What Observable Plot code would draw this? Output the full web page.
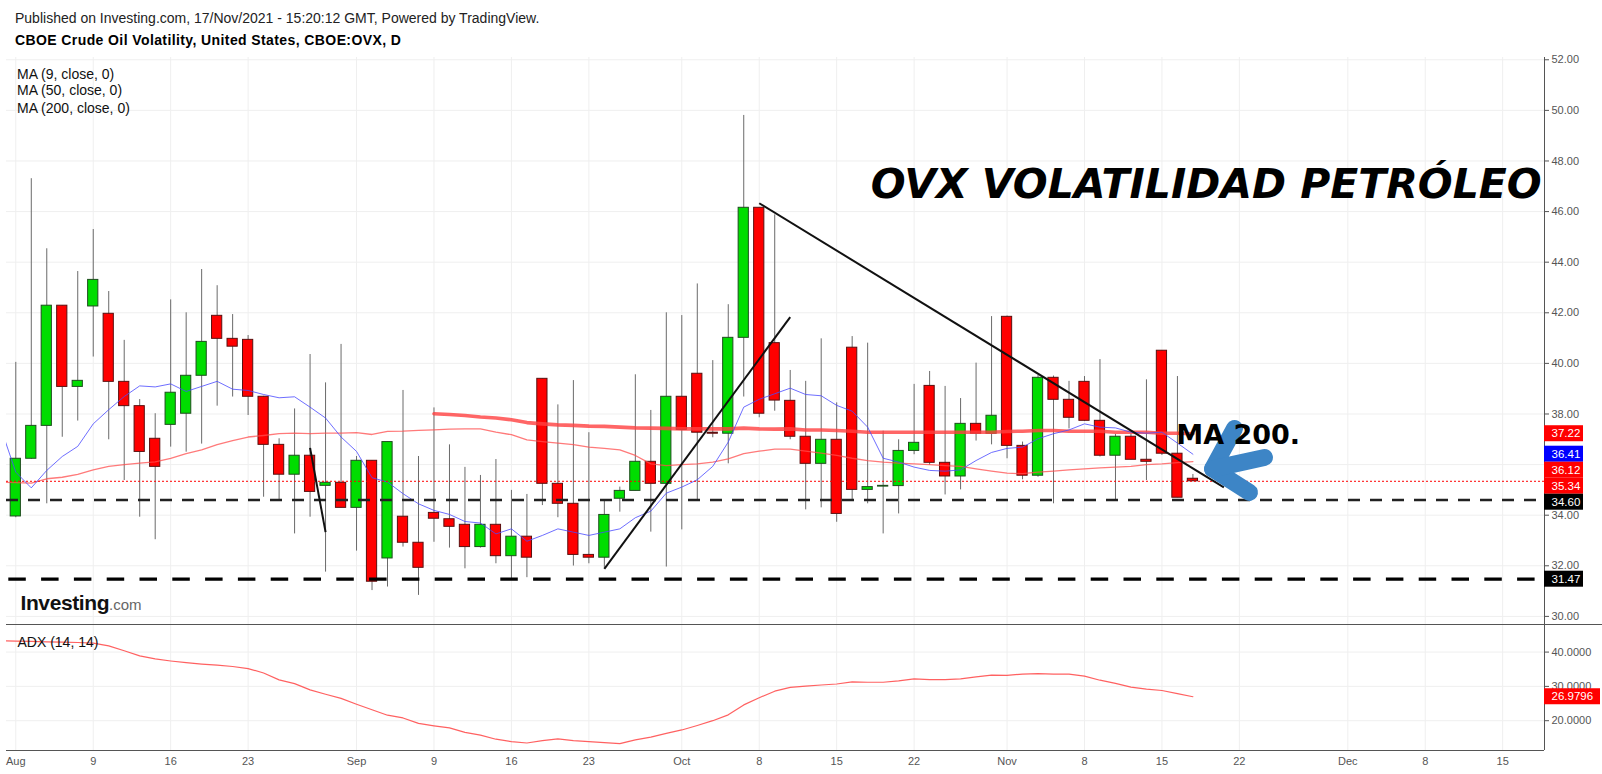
<!DOCTYPE html>
<html><head><meta charset="utf-8">
<script src="https://cdn.jsdelivr.net/npm/d3@7"></script>
<script src="https://cdn.jsdelivr.net/npm/@observablehq/plot@0.6"></script>
<style>
html,body{margin:0;padding:0;background:#fff;}
#wrap{position:relative;width:1602px;height:774px;overflow:hidden;background:#fff;font-family:"Liberation Sans",Arial,sans-serif;}
.t{position:absolute;white-space:nowrap;line-height:1;}
#main,#adx{position:absolute;left:0;}
#main{top:50px;} #adx{top:625px;}
#sep{position:absolute;left:6px;top:624px;width:1596px;height:1px;background:#555;}
svg{overflow:visible;}
</style></head><body>
<div id="wrap">
  <div id="main"></div>
  <div id="adx"></div>
  <div id="sep"></div>
  <div class="t" style="left:15px;top:10.6px;font-size:14px;color:#222">Published on Investing.com, 17/Nov/2021 - 15:20:12 GMT, Powered by TradingView.</div>
  <div class="t" style="left:15px;top:33px;font-size:14px;font-weight:bold;color:#000;letter-spacing:0.4px">CBOE Crude Oil Volatility, United States, CBOE:OVX, D</div>
  <div class="t" id="leg0" style="left:17px;top:66.8px;font-size:14px;color:#111"></div>
  <div class="t" id="leg1" style="left:17px;top:83.1px;font-size:14px;color:#111"></div>
  <div class="t" id="leg2" style="left:17px;top:100.5px;font-size:14px;color:#111"></div>
  <div class="t" style="left:20.5px;top:591.5px;font-size:21px;font-weight:bold;color:#111;letter-spacing:-0.4px">Investing<span style="font-size:15px;font-weight:normal;color:#666;letter-spacing:0">.com</span></div>
  <div class="t" id="adxlab" style="left:17.5px;top:634.7px;font-size:14px;color:#111"></div>
</div>
<script>
// ---------- data ----------
const tickIdx    = [0,5,10,15,22,27,32,37,43,48,53,58,64,69,74,79,86,91,96];
const tickLabels = ["Aug","9","16","23","Sep","9","16","23","Oct","8","15","22","Nov","8","15","22","Dec","8","15"];

const opens = [33.95,36.23,37.53,42.28,39.07,42.25,41.96,39.27,38.31,37.02,
  37.57,38.01,39.51,41.88,40.97,40.93,38.68,36.78,35.60,36.35,
  35.16,35.28,34.29,36.15,32.29,33.94,32.91,34.09,33.84,33.62,
  32.74,33.62,32.38,33.15,39.39,35.24,34.45,32.43,32.32,34.65,
  34.96,36.11,35.24,38.68,39.59,37.26,37.22,41.01,46.15,40.80,
  38.52,37.10,36.03,36.98,40.62,35.00,35.13,35.15,36.54,39.11,
  36.07,35.53,37.61,37.22,41.84,36.74,35.56,39.43,38.56,39.27,
  37.73,36.35,37.10,36.19,40.50,36.43,35.44];
const closes = [36.23,37.53,42.28,39.07,39.31,43.30,39.27,38.31,36.50,35.91,
  38.84,39.51,40.85,40.97,40.66,38.68,36.78,35.60,36.35,34.92,
  35.28,34.29,36.15,31.37,36.89,32.91,31.92,33.86,33.54,32.74,
  33.62,32.38,33.15,32.32,35.24,34.45,32.43,32.32,34.01,34.96,
  36.11,35.24,38.68,37.37,37.26,37.22,41.01,46.15,38.01,38.53,
  37.10,36.03,36.98,34.05,35.00,35.11,35.16,36.54,36.86,36.07,
  35.53,37.61,37.22,37.93,36.74,35.56,39.43,38.56,37.85,37.73,
  36.35,37.10,36.19,36.11,36.43,34.69,35.34];
const highs = [40.04,47.30,44.53,42.28,43.63,45.29,42.84,40.91,38.57,38.01,
  42.51,42.00,43.71,43.07,41.93,41.10,38.70,37.02,38.20,40.35,
  39.23,40.75,36.32,36.15,36.90,38.93,36.32,38.24,36.78,35.89,
  35.57,36.20,34.98,34.82,39.39,38.36,39.32,37.26,34.58,35.11,
  39.55,38.14,42.00,41.89,43.14,40.11,42.32,49.80,46.15,45.87,
  39.72,39.29,40.97,38.44,41.06,40.80,37.32,36.98,39.17,39.68,
  39.09,38.61,40.01,41.85,41.87,36.89,39.52,39.50,39.29,39.48,
  40.15,37.19,37.20,39.35,40.50,39.48,35.61];
const lows = [33.90,36.20,34.45,37.08,37.72,40.25,36.98,35.37,33.92,33.03,
  36.69,36.49,36.81,38.31,38.67,37.94,34.71,34.61,33.26,33.92,
  31.75,34.29,32.58,31.02,31.16,32.74,30.83,32.93,32.70,31.88,
  32.70,32.08,31.49,31.53,34.38,33.90,31.99,32.08,31.88,34.12,
  34.96,33.33,31.95,33.42,34.62,37.06,36.03,38.67,37.85,38.11,
  36.98,34.21,34.29,33.72,34.61,34.45,33.26,34.05,36.39,35.97,
  34.80,35.00,36.93,36.78,36.23,35.40,35.50,34.45,37.41,37.70,
  36.30,34.61,36.19,35.37,36.36,34.69,35.34];

// moving averages (index -1 = value just before Aug 2)
const ma9 = [37.50,
  35.70,35.08,35.77,36.32,36.72,37.61,38.17,38.69,39.11,39.07,
  39.19,38.89,39.09,39.29,38.98,38.93,38.77,38.64,38.68,38.27,
  37.84,37.09,36.52,35.48,35.31,34.85,34.45,34.19,34.03,33.75,
  33.69,33.26,33.46,32.97,33.20,33.46,33.33,33.20,33.33,33.46,
  33.90,34.16,34.87,35.11,35.40,35.93,36.89,38.27,38.58,38.80,
  39.02,38.77,38.72,38.34,38.11,37.48,36.25,36.10,35.90,35.77,
  35.74,35.79,36.16,36.48,36.64,36.69,37.02,37.22,37.37,37.61,
  37.48,37.45,37.28,37.24,37.28,36.85,36.41];
const ma50 = [35.30,
  35.29,35.27,35.44,35.50,35.61,35.79,35.93,36.00,36.06,36.11,
  36.25,36.43,36.58,36.79,36.95,37.09,37.15,37.22,37.24,37.22,
  37.24,37.24,37.26,37.19,37.31,37.32,37.35,37.37,37.40,37.41,
  37.41,37.28,37.18,36.98,36.91,36.85,36.79,36.69,36.64,36.58,
  36.36,36.03,35.96,36.00,36.03,36.10,36.23,36.43,36.53,36.61,
  36.61,36.53,36.45,36.36,36.25,36.16,36.10,36.06,36.03,36.00,
  35.96,35.93,35.83,35.74,35.66,35.64,35.70,35.74,35.79,35.83,
  35.87,35.90,35.93,36.00,36.03,36.08,36.12];
const ma200Start = 27;
const ma200 = [38.01,37.98,37.94,
  37.88,37.84,37.77,37.66,37.61,37.57,37.55,37.52,37.51,37.48,
  37.45,37.44,37.43,37.41,37.41,37.41,37.41,37.44,37.41,37.40,
  37.41,37.37,37.37,37.35,37.32,37.28,37.28,37.28,37.28,37.28,
  37.28,37.28,37.28,37.28,37.31,37.32,37.35,37.35,37.32,37.32,
  37.32,37.28,37.28,37.28,37.24,37.24,37.22];
const adx = [43.30,
  43.20,43.10,43.00,42.90,42.80,42.60,41.80,40.40,38.90,38.00,
  37.40,36.90,36.50,36.20,35.80,35.20,33.90,31.90,30.80,29.00,
  27.70,26.50,24.80,23.20,21.60,20.80,19.20,18.50,17.90,16.60,
  15.80,14.60,13.90,13.50,14.20,14.70,14.20,13.90,13.60,13.30,
  14.40,15.20,16.30,17.30,18.60,20.00,21.70,24.60,26.70,28.60,
  29.70,30.10,30.40,30.70,31.30,31.20,31.20,31.60,32.20,32.00,
  32.00,32.20,32.80,33.30,33.20,33.60,33.70,33.60,33.60,33.00,
  31.80,30.90,29.80,29.20,28.80,27.90,26.98];

// drawings
const trendX1 = [19.0, 38.0, 48.0];
const trendY1 = [36.66, 31.88, 46.33];
const trendX2 = [20.0, 50.0, 78.0];
const trendY2 = [33.33, 41.83, 35.10];
const levelValues = [34.60, 31.47];
const lastClose = 35.34;
const arrowHeadX = [78.69, 77.27, 79.65];
const arrowHeadY = [37.43, 35.83, 34.90];
const arrowShaftX = [77.27, 80.62];
const arrowShaftY = [35.83, 36.28];
const titleText = "OVX VOLATILIDAD PETRÓLEO";
const titleAt = [55.2, 47.04];
const maNoteText = "MA 200.";
const maNoteAt = [74.93, 37.17];

const tagValues = [37.22, 36.41, 36.12, 35.34, 34.60, 31.47];
const tagColors = ["#ff0000", "#0000ff", "#ff0000", "#ff0000", "#000000", "#000000"];
const adxTagValue = 26.9796;
const yGridMain = [30,32,34,36,38,40,42,44,46,48,50,52];
const yLabelMain = [30,32,34,38,40,42,44,46,48,50,52];   // 36.00 sits under the price tags
const yTicksAdx = [20,30,40];
const legendTexts = ["MA (9, close, 0)", "MA (50, close, 0)", "MA (200, close, 0)"];
const adxLabel = "ADX (14, 14)";

// ---------- build ----------
document.getElementById("leg0").textContent = legendTexts[0];
document.getElementById("leg1").textContent = legendTexts[1];
document.getElementById("leg2").textContent = legendTexts[2];
document.getElementById("adxlab").textContent = adxLabel;

const W = 1602, mL = 6, mR = 58;
const xDomain = [-0.6, 98.7];
const pxPerIdx = (W - mL - mR) / (xDomain[1] - xDomain[0]);
const yDomMain = [29.64, 52.09];
const mainH = 575, mainTopM = 7;
const unitPerPx = (yDomMain[1] - yDomMain[0]) / (mainH - mainTopM);

const candles = opens.map((o, i) => ({i, o, c: closes[i], h: highs[i], l: lows[i]}));
const series = (arr, start) => arr.map((v, k) => ({i: start + k, v}));
const ma9D = series(ma9, -1), ma50D = series(ma50, -1), ma200D = series(ma200, ma200Start), adxD = series(adx, -1);
const trends = trendX1.map((x, k) => ({x1: x, y1: trendY1[k], x2: trendX2[k], y2: trendY2[k]}));
const arrowD = arrowHeadX.map((x, k) => ({x, y: arrowHeadY[k], g: 0}))
  .concat(arrowShaftX.map((x, k) => ({x, y: arrowShaftY[k], g: 1})));

const tagH = 16 * unitPerPx;
let prev = Infinity;
const tags = tagValues.map((v, k) => { const pos = Math.min(v, prev - tagH); prev = pos; return {label: v.toFixed(2), pos, color: tagColors[k]}; });
const tagW = 39 / pxPerIdx;

const upFill = "#00dd00", dnFill = "#ff0000";
const font = "Liberation Sans, Arial, sans-serif";

const main = Plot.plot({
  width: W, height: mainH,
  marginLeft: mL, marginRight: mR, marginTop: mainTopM, marginBottom: 0,
  x: {domain: xDomain, axis: null},
  y: {domain: yDomMain, axis: null},
  style: {background: "transparent", fontFamily: font, fontSize: "11px"},
  marks: [
    Plot.gridX(tickIdx, {stroke: "#efefef", strokeOpacity: 1}),
    Plot.gridY(yGridMain, {stroke: "#efefef", strokeOpacity: 1}),
    Plot.ruleX(candles, {x: "i", y1: "l", y2: "h", stroke: "#6a6a6a", strokeWidth: 1}),
    Plot.rect(candles, {x1: d => d.i - 0.33, x2: d => d.i + 0.33, y1: "o", y2: "c",
      fill: d => d.c >= d.o ? upFill : dnFill,
      stroke: d => d.c >= d.o ? "#1e4d1e" : "#5a1010", strokeWidth: 1}),
    Plot.line(ma50D, {x: "i", y: "v", stroke: "#ff4d4d", strokeOpacity: 0.75, strokeWidth: 1.3, clip: true}),
    Plot.line(ma200D, {x: "i", y: "v", stroke: "#ff4040", strokeOpacity: 0.8, strokeWidth: 3.6, clip: true}),
    Plot.line(ma9D, {x: "i", y: "v", stroke: "#4a4aff", strokeOpacity: 0.8, strokeWidth: 1, clip: true}),
    Plot.ruleY([lastClose], {stroke: "#ff0000", strokeWidth: 1, strokeDasharray: "2,2"}),
    Plot.ruleY([levelValues[0]], {stroke: "#222", strokeWidth: 2.5, strokeDasharray: "12,10"}),
    Plot.ruleY([levelValues[1]], {x1: xDomain[0] + 2.3 / pxPerIdx, x2: xDomain[1], stroke: "#000", strokeWidth: 3.3, strokeDasharray: "17.5,15.3"}),
    Plot.link(trends, {x1: "x1", y1: "y1", x2: "x2", y2: "y2", stroke: "#111", strokeWidth: 2}),
    Plot.text([titleText], {x: titleAt[0], y: titleAt[1], text: d => d, textAnchor: "start", lineAnchor: "middle",
      fontSize: 41, fontWeight: "bold", fontStyle: "italic", fontFamily: "DejaVu Sans", fill: "#000"}),
    Plot.line(arrowD, {x: "x", y: "y", z: "g", stroke: "#3d85c6", strokeWidth: 17, strokeLinecap: "round", strokeLinejoin: "round"}),
    Plot.text([maNoteText], {x: maNoteAt[0], y: maNoteAt[1], text: d => d, textAnchor: "start", lineAnchor: "middle",
      fontSize: 27, fontWeight: "bold", fontFamily: "DejaVu Sans", fill: "#000"}),
    Plot.ruleX([xDomain[1]], {stroke: "#555", strokeWidth: 1}),
    Plot.axisY(yLabelMain, {anchor: "right", tickFormat: d => d.toFixed(2), tickSize: 4, tickPadding: 3, fontSize: 11, color: "#555", label: null}),
    Plot.rect(tags, {x1: xDomain[1], x2: xDomain[1] + tagW, y1: d => d.pos - tagH / 2, y2: d => d.pos + tagH / 2, fill: "color"}),
    Plot.text(tags, {x: xDomain[1], y: "pos", text: "label", dx: 7, textAnchor: "start", fill: "#fff", fontSize: 11.5})
  ]
});
document.getElementById("main").appendChild(main);

const yDomAdx = [11.31, 47.75];
const adxH = 149, adxBottomM = 24;
const adxUnitPerPx = (yDomAdx[1] - yDomAdx[0]) / (adxH - adxBottomM);
const adxTagH = 16 * adxUnitPerPx;
const adxTag = [{label: adxTagValue.toFixed(4), pos: adxTagValue}];

const adxPlot = Plot.plot({
  width: W, height: adxH,
  marginLeft: mL, marginRight: mR, marginTop: 0, marginBottom: adxBottomM,
  x: {domain: xDomain, axis: null},
  y: {domain: yDomAdx, axis: null},
  style: {background: "transparent", fontFamily: font, fontSize: "11px"},
  marks: [
    Plot.gridX(tickIdx, {stroke: "#efefef", strokeOpacity: 1}),
    Plot.gridY(yTicksAdx, {stroke: "#efefef", strokeOpacity: 1}),
    Plot.line(adxD, {x: "i", y: "v", stroke: "#ff5050", strokeOpacity: 0.9, strokeWidth: 1.2, clip: true}),
    Plot.ruleY([yDomAdx[0]], {stroke: "#555", strokeWidth: 1}),
    Plot.ruleX([xDomain[1]], {stroke: "#555", strokeWidth: 1}),
    Plot.axisY(yTicksAdx, {anchor: "right", tickFormat: d => d.toFixed(4), tickSize: 4, tickPadding: 3, fontSize: 11, color: "#555", label: null}),
    Plot.axisX(tickIdx, {anchor: "bottom", tickFormat: d => tickLabels[tickIdx.indexOf(d)], tickSize: 0, tickPadding: 7, fontSize: 11, color: "#555", label: null}),
    Plot.rect(adxTag, {x1: xDomain[1], x2: xDomain[1] + 56 / pxPerIdx, y1: d => d.pos - adxTagH / 2, y2: d => d.pos + adxTagH / 2, fill: "#ff0000"}),
    Plot.text(adxTag, {x: xDomain[1], y: "pos", text: "label", dx: 7, textAnchor: "start", fill: "#fff", fontSize: 11.5})
  ]
});
document.getElementById("adx").appendChild(adxPlot);
</script>
</body></html>
